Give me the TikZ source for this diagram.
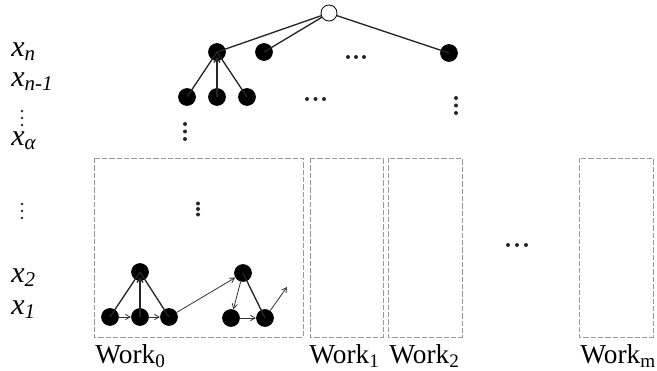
\documentclass[tikz,border=0pt]{standalone}
\usepackage{fontspec}
\setmainfont{Liberation Serif}
\usetikzlibrary{arrows.meta}
\begin{document}
\begin{tikzpicture}[x=0.75pt,y=-0.75pt,
 vtx/.style={circle,fill=black,minimum size=13.3pt,inner sep=0pt},
 rootnode/.style={circle,draw=black,fill=white,line width=0.6pt,minimum size=12pt,inner sep=0pt},
 edg/.style={draw=black!85,line width=1pt},
 arr/.style={draw=black!80,line width=0.6pt,-{Straight Barb[length=3.5pt,width=4pt]}},
 wbox/.style={draw=black!40,dash pattern=on 4pt off 1.5pt,line width=0.7pt},
 lab/.style={anchor=base west,inner sep=0pt,font=\fontsize{20.5}{24}\selectfont},
 xlab/.style={anchor=base west,inner sep=0pt,font=\fontsize{22.5}{26}\selectfont},
 dotb/.style={circle,fill=black!85,minimum size=3pt,inner sep=0pt},
 dots/.style={circle,fill=black!85,minimum size=2.2pt,inner sep=0pt},
 ]
\useasboundingbox (0,0) rectangle (657,371);

% left labels
\node[xlab] (ln) at (11,56) {\textit{x}\textsubscript{\textit{n}}};
\node[xlab] (ln1) at (11,86) {\textit{x}\textsubscript{\textit{n-1}}};
\node[xlab] (la) at (11,145) {\textit{x}\textsubscript{\textit{α}}};
\node[xlab] (l2) at (11,282) {\textit{x}\textsubscript{\textit{2}}};
\node[xlab] (l1) at (11,314) {\textit{x}\textsubscript{\textit{1}}};
\foreach \y [count=\i] in {111,118,125} \node[dots] (lv\i) at (22,\y) {};
\foreach \y [count=\i] in {204,211,218} \node[dots] (lw\i) at (22,\y) {};

% tree
\node[rootnode] (r) at (329,13) {};
\node[vtx] (a) at (217,52) {};
\node[vtx] (b) at (264,52) {};
\node[vtx] (c) at (449,53) {};
\node[vtx] (a1) at (187,97) {};
\node[vtx] (a2) at (217,97) {};
\node[vtx] (a3) at (247,97) {};
\draw[edg] (r) -- (a.center);
\draw[edg] (r) -- (b.center);
\draw[edg] (r) -- (c.center);
\draw[edg] (a.center) -- (a1.center);
\draw[edg] (a.center) -- (a3.center);
\draw[edg,-{Straight Barb[length=3.5pt,width=4.5pt]},shorten >=3.5pt] (a2.center) -- (a.center);

\foreach \x [count=\i] in {348,356,364} \node[dotb] (d1\i) at (\x,57) {};
\foreach \x [count=\i] in {307,315.5,324} \node[dotb] (d2\i) at (\x,99) {};
\foreach \y [count=\i] in {98,105.5,113} \node[dotb] (d3\i) at (456,\y) {};
\foreach \y [count=\i] in {124,131.5,139} \node[dotb] (d4\i) at (185,\y) {};

% boxes
\draw[wbox] (94,158) rectangle (303,337);
\draw[wbox] (310,158) rectangle (383,337);
\draw[wbox] (388,158) rectangle (462,337);
\draw[wbox] (579,158) rectangle (653,337);

\node[lab] (w0) at (95,363) {Work\textsubscript{0}};
\node[lab] (w1) at (309,363) {Work\textsubscript{1}};
\node[lab] (w2) at (389,363) {Work\textsubscript{2}};
\node[lab] (wm) at (580,363) {Work\textsubscript{m}};

\foreach \y [count=\i] in {203.5,209,214.5} \node[dotb] (d5\i) at (198,\y) {};
\foreach \x [count=\i] in {508,517,526} \node[dotb] (d6\i) at (\x,245) {};

% graph in Work0
\node[vtx] (gt) at (140,272) {};
\node[vtx] (g1) at (110,317) {};
\node[vtx] (g2) at (140,317) {};
\node[vtx] (g3) at (169,317) {};
\node[vtx] (ht) at (243,273) {};
\node[vtx] (h1) at (231,318) {};
\node[vtx] (h2) at (265,318) {};
\coordinate (hend) at (287,287);
\draw[edg] (gt.center) -- (g1.center);
\draw[edg] (gt.center) -- (g3.center);
\draw[edg,-{Straight Barb[length=3.5pt,width=4.5pt]},shorten >=3.5pt] (g2.center) -- (gt.center);
\draw[arr] (g1) -- (g2);
\draw[arr] (g2) -- (g3);
\draw[arr] (g3) -- (ht);
\draw[arr] (ht) -- (h1);
\draw[edg] (ht.center) -- (h2.center);
\draw[arr] (h1) -- (h2);
\draw[arr] (h2) -- (hend);
\end{tikzpicture}
\end{document}
